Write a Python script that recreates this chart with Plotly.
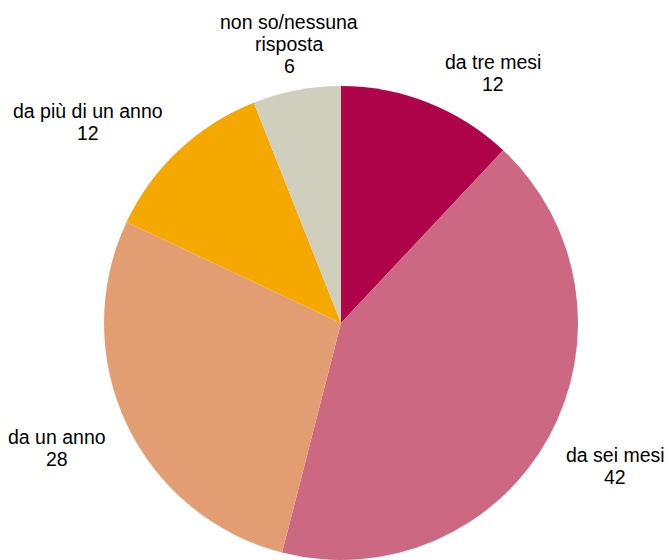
import plotly.graph_objects as go

labels = ["da tre mesi", "da sei mesi", "da un anno", "da più di un anno", "non so/nessuna risposta"]
values = [12, 42, 28, 12, 6]
colors = ["#B0044A", "#CC6882", "#E29E72", "#F5A800", "#D0CEBD"]

# label text lines (label lines + value)
label_lines = [["da tre mesi"], ["da sei mesi"], ["da un anno"], ["da più di un anno"], ["non so/nessuna", "risposta"]]
label_pos = [(493, 62), (615, 455), (57, 437), (88, 111), (289, 22)]  # pixel centre of first line

W, H = 670, 560
LINE = 22

fig = go.Figure(go.Pie(
    labels=labels, values=values, sort=False, direction="clockwise", rotation=0,
    marker=dict(colors=colors, line=dict(width=0)),
    textinfo="none", hoverinfo="label+value", showlegend=False,
    domain=dict(x=[103 / W, 579 / W], y=[0, 474 / H]),
))

ann = []
for lines, v, (px, py) in zip(label_lines, values, label_pos):
    for i, t in enumerate(lines + [str(v)]):
        ann.append(dict(x=px / W, y=1 - (py + i * LINE) / H, xref="paper", yref="paper",
                        text=t, showarrow=False, xanchor="center", yanchor="middle",
                        font=dict(family="Liberation Sans, Arial", size=19.5, color="#000000")))

fig.update_layout(width=W, height=H, margin=dict(l=0, r=0, t=0, b=0),
                  paper_bgcolor="white", plot_bgcolor="white", annotations=ann)
fig.write_html("out.html", config={"displayModeBar": False},
               post_script="document.body.style.margin='0';")
